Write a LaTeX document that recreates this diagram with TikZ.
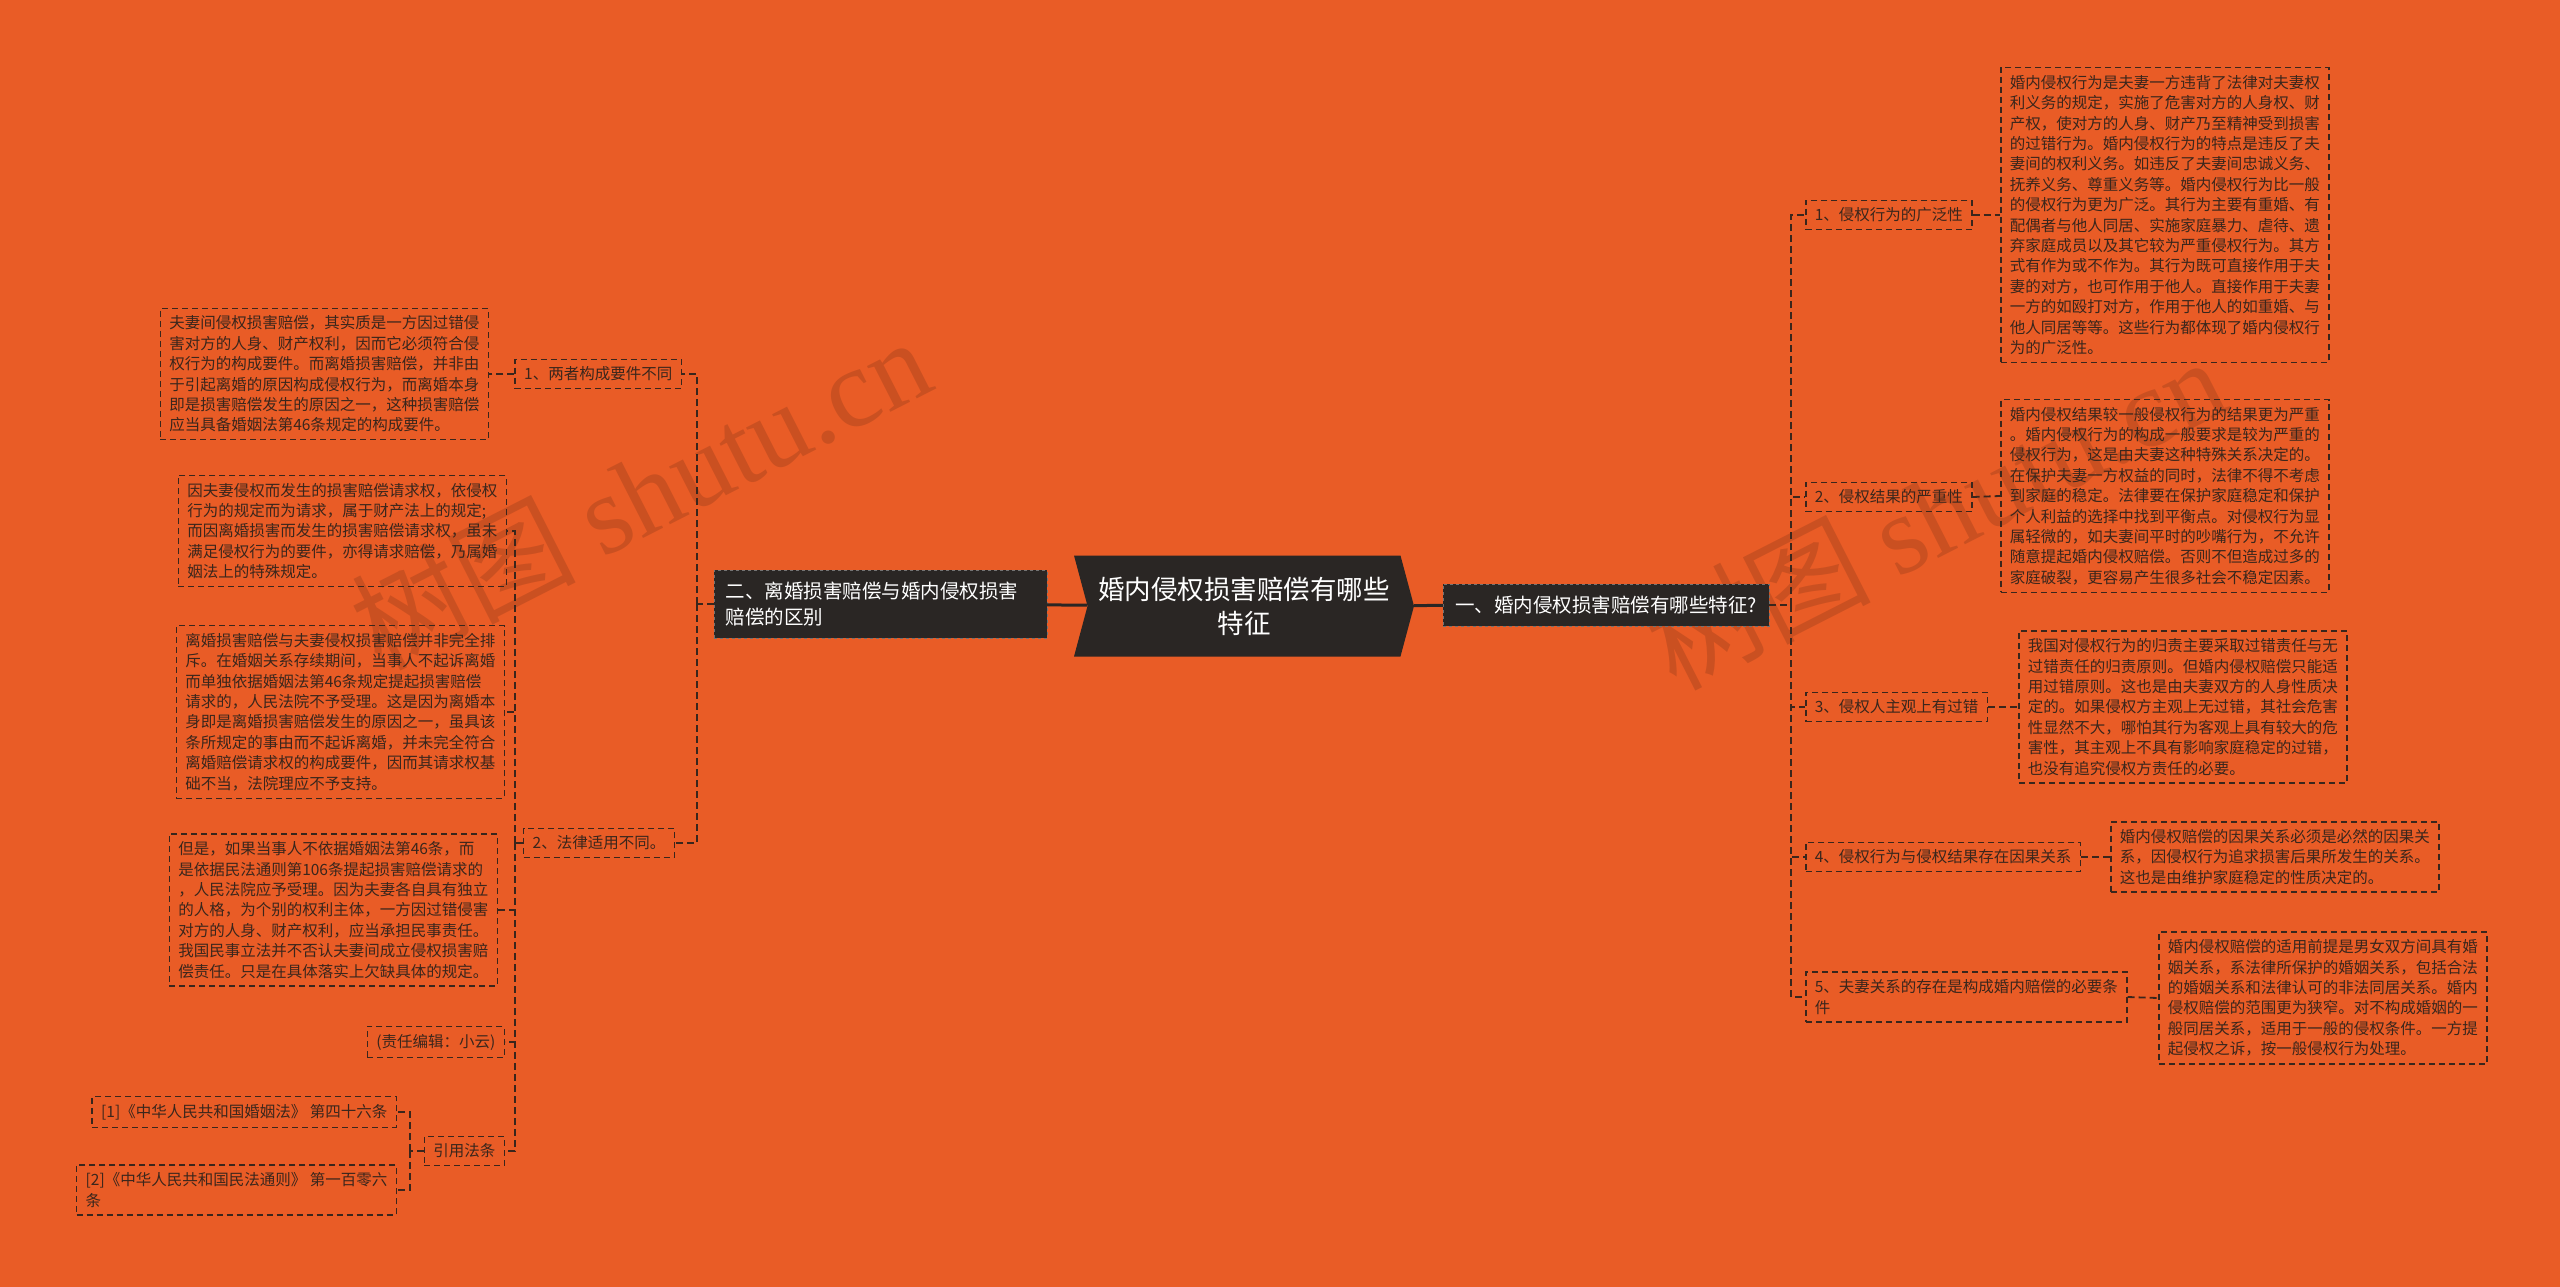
\documentclass[tikz,border=0pt]{standalone}
\usepackage{fontspec}
\setmainfont{Noto Sans CJK SC}
\newfontfamily\wmlatin{Liberation Serif}
\usetikzlibrary{shapes.symbols,positioning}

\definecolor{bgorange}{HTML}{E95C26}
\definecolor{inkbrown}{HTML}{3A261C}
\definecolor{nodedark}{HTML}{2A2624}

\begin{document}
\begin{tikzpicture}[x=1pt, y=-1pt,
  %% ── Node styles (1 unit = 1 px of the 2560 x 1287 canvas) ────────────────
  root/.style={signal, signal from=west, signal to=east, signal pointer angle=150,
               fill=nodedark, text=white, minimum width=340pt, minimum height=101pt,
               font=\fontsize{26.5}{34}\selectfont, align=center, inner sep=0pt},
  topic/.style={fill=nodedark, draw=black!55, dashed, text=white,
                font=\fontsize{19.5}{25.5}\selectfont, align=left,
                inner xsep=12pt, inner ysep=12pt},
  item/.style={draw=inkbrown, dash pattern=on 6pt off 4pt, line width=1.5pt,
               text=inkbrown, font=\fontsize{15.5}{20.4}\selectfont, align=left,
               inner xsep=9pt, inner ysep=7.5pt},
  detail/.style={item},
  wmark/.style={rotate=27, text=black, text opacity=0.13,
                font=\fontsize{112}{112}\selectfont},
  %% ── Connector styles ─────────────────────────────────────────────────────
  stem/.style={draw=nodedark, line width=3pt},
  link/.style={draw=inkbrown, dash pattern=on 7pt off 4pt, line width=1.8pt}
]

%% ── Canvas ──────────────────────────────────────────────────────────────────
\fill[bgorange] (0,0) rectangle (2560,1287);
\useasboundingbox (0,0) rectangle (2560,1287);

%% ── Watermarks ──────────────────────────────────────────────────────────────
\node[wmark] (wm1) at (640,492)  {树图 {\wmlatin shutu.cn}};
\node[wmark] (wm2) at (1935,512) {树图 {\wmlatin shutu.cn}};

%% ── Root and first level ────────────────────────────────────────────────────
\node[root] (root) at (1244,606) {婚内侵权损害赔偿有哪些\\特征};
\node[topic, anchor=west] (rmain) at (1443,605) {一、婚内侵权损害赔偿有哪些特征?};
\node[topic, anchor=east, text width=309pt] (lmain) at (1047,604)
  {二、离婚损害赔偿与婚内侵权损害\\赔偿的区别};

\draw[stem] (root) -- (rmain);
\draw[stem] (root) -- (lmain);

%% ── Right branch: items (x = 1805) ──────────────────────────────────────────
\coordinate (rtrunk) at (1791,605);
\node[item, anchor=west] (r1) at (1805,215) {1、侵权行为的广泛性};
\node[item, anchor=west] (r2) at (1805,497) {2、侵权结果的严重性};
\node[item, anchor=west] (r3) at (1805,707) {3、侵权人主观上有过错};
\node[item, anchor=west] (r4) at (1805,857) {4、侵权行为与侵权结果存在因果关系};
\node[item, anchor=west] (r5) at (1805,997) {5、夫妻关系的存在是构成婚内赔偿的必要条\\件};

%% ── Right branch: details ───────────────────────────────────────────────────
\node[detail, anchor=west] (r1d) at (2000,215) {婚内侵权行为是夫妻一方违背了法律对夫妻权\\
利义务的规定，实施了危害对方的人身权、财\\
产权，使对方的人身、财产乃至精神受到损害\\
的过错行为。婚内侵权行为的特点是违反了夫\\
妻间的权利义务。如违反了夫妻间忠诚义务、\\
抚养义务、尊重义务等。婚内侵权行为比一般\\
的侵权行为更为广泛。其行为主要有重婚、有\\
配偶者与他人同居、实施家庭暴力、虐待、遗\\
弃家庭成员以及其它较为严重侵权行为。其方\\
式有作为或不作为。其行为既可直接作用于夫\\
妻的对方，也可作用于他人。直接作用于夫妻\\
一方的如殴打对方，作用于他人的如重婚、与\\
他人同居等等。这些行为都体现了婚内侵权行\\
为的广泛性。};
\node[detail, anchor=west] (r2d) at (2000,496) {婚内侵权结果较一般侵权行为的结果更为严重\\
。婚内侵权行为的构成一般要求是较为严重的\\
侵权行为，这是由夫妻这种特殊关系决定的。\\
在保护夫妻一方权益的同时，法律不得不考虑\\
到家庭的稳定。法律要在保护家庭稳定和保护\\
个人利益的选择中找到平衡点。对侵权行为显\\
属轻微的，如夫妻间平时的吵嘴行为，不允许\\
随意提起婚内侵权赔偿。否则不但造成过多的\\
家庭破裂，更容易产生很多社会不稳定因素。};
\node[detail, anchor=west] (r3d) at (2018,707) {我国对侵权行为的归责主要采取过错责任与无\\
过错责任的归责原则。但婚内侵权赔偿只能适\\
用过错原则。这也是由夫妻双方的人身性质决\\
定的。如果侵权方主观上无过错，其社会危害\\
性显然不大，哪怕其行为客观上具有较大的危\\
害性，其主观上不具有影响家庭稳定的过错，\\
也没有追究侵权方责任的必要。};
\node[detail, anchor=west] (r4d) at (2110,857) {婚内侵权赔偿的因果关系必须是必然的因果关\\
系，因侵权行为追求损害后果所发生的关系。\\
这也是由维护家庭稳定的性质决定的。};
\node[detail, anchor=west] (r5d) at (2158,998) {婚内侵权赔偿的适用前提是男女双方间具有婚\\
姻关系，系法律所保护的婚姻关系，包括合法\\
的婚姻关系和法律认可的非法同居关系。婚内\\
侵权赔偿的范围更为狭窄。对不构成婚姻的一\\
般同居关系，适用于一般的侵权条件。一方提\\
起侵权之诉，按一般侵权行为处理。};

%% ── Left branch: items ──────────────────────────────────────────────────────
\coordinate (ltrunk) at (697,604);
\node[item, anchor=east] (l1) at (682,374) {1、两者构成要件不同};
\node[item, anchor=east] (l2) at (675,843) {2、法律适用不同。};

%% ── Left branch: details ────────────────────────────────────────────────────
\node[detail, anchor=east] (l1d) at (489,374) {夫妻间侵权损害赔偿，其实质是一方因过错侵\\
害对方的人身、财产权利，因而它必须符合侵\\
权行为的构成要件。而离婚损害赔偿，并非由\\
于引起离婚的原因构成侵权行为，而离婚本身\\
即是损害赔偿发生的原因之一，这种损害赔偿\\
应当具备婚姻法第46条规定的构成要件。};

\coordinate (l2trunk) at (515,843);
\node[detail, anchor=east] (l2a) at (507,531) {因夫妻侵权而发生的损害赔偿请求权，依侵权\\
行为的规定而为请求，属于财产法上的规定;\\
而因离婚损害而发生的损害赔偿请求权，虽未\\
满足侵权行为的要件，亦得请求赔偿，乃属婚\\
姻法上的特殊规定。};
\node[detail, anchor=east] (l2b) at (505,712) {离婚损害赔偿与夫妻侵权损害赔偿并非完全排\\
斥。在婚姻关系存续期间，当事人不起诉离婚\\
而单独依据婚姻法第46条规定提起损害赔偿\\
请求的，人民法院不予受理。这是因为离婚本\\
身即是离婚损害赔偿发生的原因之一，虽具该\\
条所规定的事由而不起诉离婚，并未完全符合\\
离婚赔偿请求权的构成要件，因而其请求权基\\
础不当，法院理应不予支持。};
\node[detail, anchor=east] (l2c) at (498,910) {但是，如果当事人不依据婚姻法第46条，而\\
是依据民法通则第106条提起损害赔偿请求的\\
，人民法院应予受理。因为夫妻各自具有独立\\
的人格，为个别的权利主体，一方因过错侵害\\
对方的人身、财产权利，应当承担民事责任。\\
我国民事立法并不否认夫妻间成立侵权损害赔\\
偿责任。只是在具体落实上欠缺具体的规定。};
\node[item, anchor=east] (l2e) at (505,1042) {(责任编辑：小云)};
\node[item, anchor=east] (l2f) at (505,1151) {引用法条};

%% ── Cited laws ──────────────────────────────────────────────────────────────
\coordinate (lawtrunk) at (410,1151);
\node[item, anchor=east] (law1) at (397,1112) {[1]《中华人民共和国婚姻法》 第四十六条};
\node[item, anchor=east] (law2) at (397,1190) {[2]《中华人民共和国民法通则》 第一百零六\\条};

%% ── Connectors: right branch ────────────────────────────────────────────────
\draw[link] (rmain.east) -- (rtrunk);
\foreach \n in {r1,r2,r3,r4,r5}
  \draw[link] (rtrunk) |- (\n.west);
\foreach \n in {r1,r2,r3,r4,r5}
  \draw[link] (\n.east) -- (\n d.west);

%% ── Connectors: left branch ─────────────────────────────────────────────────
\draw[link] (lmain.west) -- (ltrunk);
\draw[link] (ltrunk) |- (l1.east);
\draw[link] (ltrunk) |- (l2.east);
\draw[link] (l1.west) -- (l1d.east);
\draw[link] (l2.west) -- (l2trunk);
\foreach \n in {l2a,l2b,l2c,l2e,l2f}
  \draw[link] (l2trunk) |- (\n.east);
\draw[link] (l2f.west) -- (lawtrunk);
\draw[link] (lawtrunk) |- (law1.east);
\draw[link] (lawtrunk) |- (law2.east);

\end{tikzpicture}
\end{document}
